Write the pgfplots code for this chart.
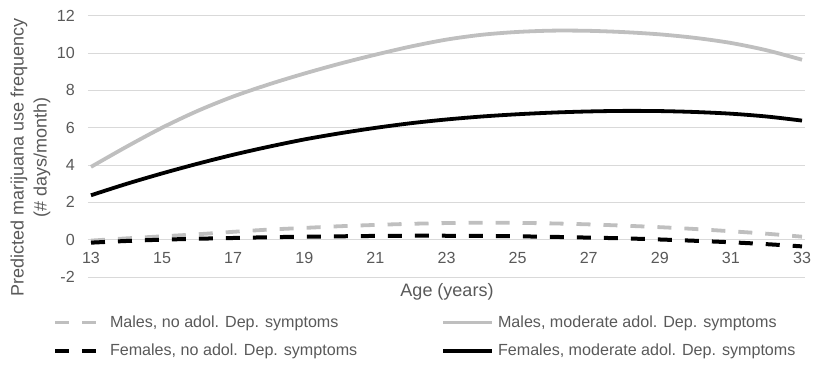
\documentclass[border=0pt]{standalone}
\usepackage{fontspec}
\setmainfont{Liberation Sans}
\usepackage{pgfplots}
\usepackage{pgfplotstable}
\pgfplotsset{compat=1.18}
\definecolor{lgray}{HTML}{BFBFBF}
\definecolor{tgray}{HTML}{595959}
\definecolor{ggray}{HTML}{D9D9D9}

\pgfplotstableread{
age mn mm fn fm
13 -0.05 3.90 -0.16 2.38
14  0.07 4.98 -0.07 2.99
15  0.18 6.00  0.00 3.55
16  0.29 6.90  0.05 4.07
17  0.42 7.67  0.09 4.55
18  0.54 8.32  0.13 4.98
19  0.63 8.90  0.16 5.37
20  0.72 9.43  0.18 5.70
21  0.79 9.91  0.20 5.99
22  0.85 10.35 0.21 6.24
23  0.89 10.72 0.21 6.44
24  0.91 10.98 0.20 6.60
25  0.90 11.13 0.18 6.72
26  0.87 11.20 0.15 6.81
27  0.82 11.19 0.11 6.87
28  0.75 11.12 0.07 6.90
29  0.67 11.00 0.01 6.89
30  0.57 10.81 -0.06 6.84
31  0.45 10.54 -0.14 6.75
32  0.32 10.15 -0.24 6.60
33  0.16 9.64 -0.36 6.38
}\datatable

\pgfplotsset{
  legdashgray/.style={legend image code/.code={\draw[lgray, line width=3.8bp, dash pattern=on 14bp off 13bp] (0bp,0bp) -- (42bp,0bp);}},
  legsolidgray/.style={legend image code/.code={\draw[lgray, line width=3.8bp] (0bp,0bp) -- (49bp,0bp);}},
  legdashblack/.style={legend image code/.code={\draw[black, line width=4bp, dash pattern=on 14bp off 13bp] (0bp,0bp) -- (42bp,0bp);}},
  legsolidblack/.style={legend image code/.code={\draw[black, line width=3.8bp] (0bp,0bp) -- (49bp,0bp);}},
}

\begin{document}
\begin{tikzpicture}
\begin{axis}[
  at={(0,0)}, anchor=south west,
  scale only axis, width=717bp, height=261.3bp,
  xmin=12.916, xmax=33.084, ymin=-2, ymax=12,
  xtick={13,15,...,33}, ytick={-2,0,...,12},
  axis line style={draw=none},
  major tick length=0pt,
  ymajorgrids, grid style={ggray, line width=0.9bp},
  /pgf/number format/assume math mode=true,
  ticklabel style={font=\fontsize{16.1bp}{19bp}\selectfont, text=tgray, inner sep=0pt},
  xticklabel style={anchor=center, yshift=19bp},
  yticklabel style={anchor=east, xshift=-13bp},
  xlabel={Age (years)},
  xlabel style={at={(axis description cs:0.5007,-0.0574)}, anchor=center, font=\fontsize{18bp}{23bp}\selectfont, text=tgray, inner sep=0pt},
  ylabel={Predicted marijuana use frequency\\(\# days/month)},
  ylabel style={at={(axis description cs:-0.0802,0.459)}, anchor=center, align=center, font=\fontsize{18bp}{23bp}\selectfont, text=tgray, inner sep=0pt},
  legend columns=2,
  legend cell align=left,
  legend style={at={(axis description cs:-0.0488,-0.149)}, anchor=north west, draw=none, fill=none, inner sep=0pt, outer sep=0pt,
    font=\fontsize{16.1bp}{19bp}\selectfont, text=tgray, row sep=15bp,
    nodes={inner sep=0pt, text=tgray},
    /tikz/column 1/.style={column sep=11bp},
    /tikz/column 2/.style={column sep=84bp},
    /tikz/column 3/.style={column sep=4bp}},
]
\addplot[lgray, line width=3.8bp, dash pattern=on 14bp off 13bp, smooth, legdashgray] table[x=age,y=mn] {\datatable};
\addlegendentry{Males, no adol. Dep. symptoms}
\addplot[lgray, line width=3.8bp, smooth, legsolidgray] table[x=age,y=mm] {\datatable};
\addlegendentry{Males, moderate adol. Dep. symptoms}
\addplot[black, line width=4bp, dash pattern=on 14bp off 13bp, smooth, legdashblack] table[x=age,y=fn] {\datatable};
\addlegendentry{Females, no adol. Dep. symptoms}
\addplot[black, line width=3.8bp, smooth, legsolidblack] table[x=age,y=fm] {\datatable};
\addlegendentry{Females, moderate adol. Dep. symptoms}
\end{axis}
\pgfresetboundingbox
\useasboundingbox (-88bp,-95bp) rectangle (728bp,277bp);
\end{tikzpicture}
\end{document}
